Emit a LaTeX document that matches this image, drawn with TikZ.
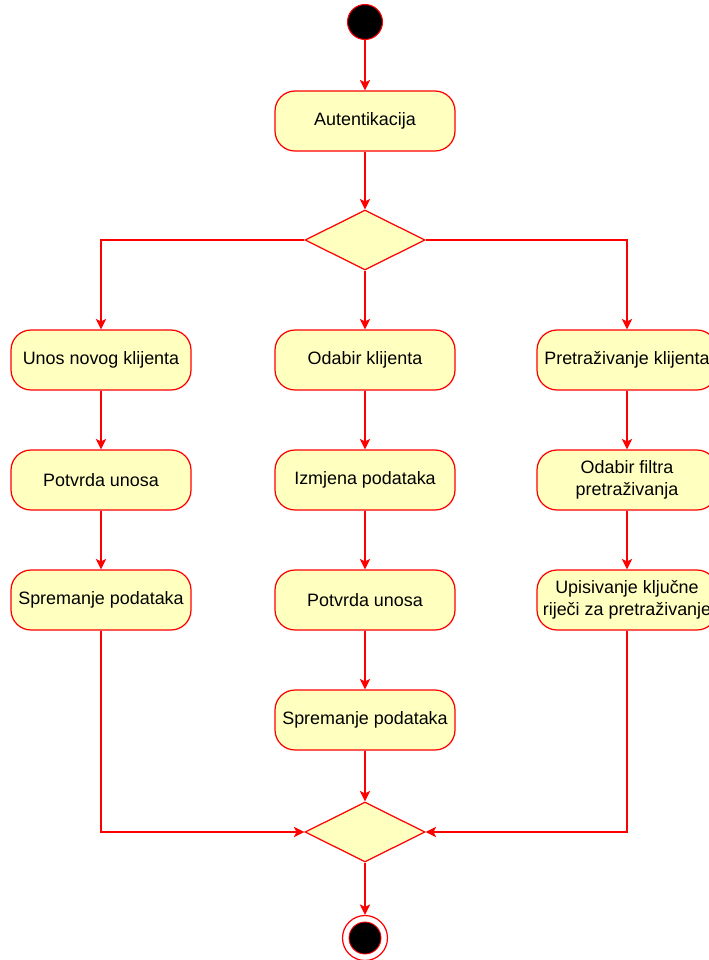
\documentclass[tikz,border=0pt]{standalone}
\usepackage{fontspec}
\setmainfont{Liberation Sans}
\usepackage{xcolor}
\usetikzlibrary{arrows.meta, shapes.geometric, positioning}

\definecolor{actfill}{HTML}{FFFFC0}
\definecolor{actline}{HTML}{FF0000}

\tikzset{
    activity/.style={draw=actline, fill=actfill, rounded corners=0.4cm, line width=0.7pt,
        minimum width=3.6cm, minimum height=1.2cm, align=center, inner sep=1pt,
        font=\fontsize{10.2}{12.6}\selectfont},
    decision/.style={draw=actline, fill=actfill, diamond, line width=0.7pt,
        minimum width=2.4cm, minimum height=1.2cm, inner sep=0pt},
    startnode/.style={circle, draw=actline, fill=black, line width=0.6pt, minimum size=0.7cm, inner sep=0pt},
    endnode/.style={circle, draw=actline, fill=white, line width=0.7pt, minimum size=0.9cm, inner sep=0pt,
        path picture={\filldraw[fill=black, draw=actline, line width=0.5pt]
            (path picture bounding box.center) circle (0.32cm);}},
    flow/.style={draw=actline, line width=0.7pt, -{Stealth[length=6pt, width=6pt, inset=1.5pt]}}
}

\begin{document}
\begin{tikzpicture}[x=0.02cm, y=-0.02cm]
    \useasboundingbox (0,0) rectangle (709,960);

    % Start and authentication
    \node[startnode] (start) at (365,22) {};
    \node[activity] (auth) at (365,121) {Autentikacija};
    \node[decision] (dec1) at (365,240) {};

    % Left branch
    \node[activity] (unos) at (101,360) {Unos novog klijenta};
    \node[activity] (potvrdaL) at (101,480) {Potvrda unosa};
    \node[activity] (spremanjeL) at (101,600) {Spremanje podataka};

    % Middle branch
    \node[activity] (odabir) at (365,360) {Odabir klijenta};
    \node[activity] (izmjena) at (365,480) {Izmjena podataka};
    \node[activity] (potvrdaM) at (365,600) {Potvrda unosa};
    \node[activity] (spremanjeM) at (365,720) {Spremanje podataka};

    % Right branch
    \node[activity] (pretraga) at (627,360) {Pretraživanje klijenta};
    \node[activity] (filtar) at (627,480) {Odabir filtra\\pretraživanja};
    \node[activity] (upis) at (627,600) {Upisivanje ključne\\riječi za pretraživanje};

    % Merge and end
    \node[decision] (dec2) at (365,832) {};
    \node[endnode] (end) at (365,938) {};

    % Flows
    \draw[flow] (start) -- (auth);
    \draw[flow] (auth) -- (dec1);
    \draw[flow] (dec1.west) -| (unos.north);
    \draw[flow] (dec1.south) -- (odabir.north);
    \draw[flow] (dec1.east) -| (pretraga.north);

    \draw[flow] (unos) -- (potvrdaL);
    \draw[flow] (potvrdaL) -- (spremanjeL);

    \draw[flow] (odabir) -- (izmjena);
    \draw[flow] (izmjena) -- (potvrdaM);
    \draw[flow] (potvrdaM) -- (spremanjeM);

    \draw[flow] (pretraga) -- (filtar);
    \draw[flow] (filtar) -- (upis);

    \draw[flow] (spremanjeL.south) |- (dec2.west);
    \draw[flow] (spremanjeM.south) -- (dec2.north);
    \draw[flow] (upis.south) |- (dec2.east);
    \draw[flow] (dec2.south) -- (end);
\end{tikzpicture}
\end{document}
